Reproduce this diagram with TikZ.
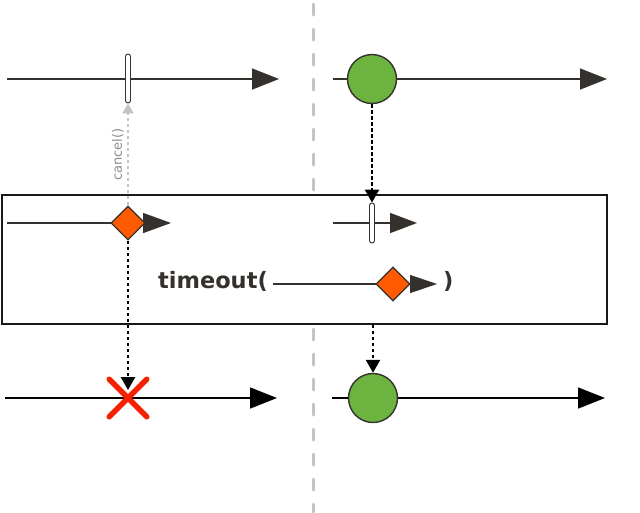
\documentclass[tikz,border=0pt]{standalone}
\usepackage{fontspec}
\setmainfont{DejaVu Sans}
\usetikzlibrary{arrows.meta,positioning,shapes.geometric,shapes.misc}
\definecolor{axisgray}{HTML}{35322E}
\definecolor{marblegreen}{HTML}{6CB33F}
\definecolor{itemorange}{HTML}{FF5A00}
\definecolor{errred}{HTML}{F42000}
\definecolor{splitgray}{HTML}{C4C4C4}
\definecolor{hintgray}{HTML}{8C8C8C}

\begin{document}
\begin{tikzpicture}[
  x=1pt,y=-1pt,
  every node/.style={font=\small},
  timeline/.style={draw=axisgray,line width=1.5pt,-{Triangle[length=27pt,width=21pt]}},
  outline/.style={timeline,draw=black},
  marble/.style={circle,draw=axisgray,line width=1.4pt,fill=marblegreen,minimum size=49pt,inner sep=0pt},
  item/.style={diamond,draw=axisgray,line width=1.2pt,fill=itemorange,minimum width=34pt,minimum height=34pt,inner sep=0pt},
  unsub/.style={rectangle,rounded corners=2.5pt,draw=axisgray,line width=0.9pt,fill=white,minimum width=5pt,inner sep=0pt},
  emit/.style={-{Triangle[length=13pt,width=14pt]},line width=2.4pt,dash pattern=on 3.5pt off 2.5pt},
  hint/.style={-{Triangle[length=10pt,width=11pt]},draw=splitgray,line width=2.4pt,dash pattern=on 3pt off 3pt},
  opbox/.style={draw=black!90,line width=1.5pt,fill=white,inner sep=0pt},
  optext/.style={font=\bfseries\fontsize{22.5}{24}\selectfont,text=axisgray,inner sep=0pt}
]
\useasboundingbox (0,0) rectangle (640,512);
% split between the two cases
\coordinate (splitTop) at (313,4.2);
\coordinate (splitBot) at (313,512);
\draw[splitgray,line width=3pt,line cap=round,dash pattern=on 11pt off 14pt] (splitTop) -- (splitBot);

% source streams
\coordinate (inL) at (7,79);
\coordinate (inLend) at (279,79);
\draw[timeline] (inL) -- (inLend);
\node[unsub,minimum height=49pt] (cutL) at (128,78.5) {};
\coordinate (inR) at (333,79);
\coordinate (inRend) at (607,79);
\draw[timeline] (inR) -- (inRend);
\node[marble] (inMarble) at (372,79) {};

% operator box
\node[opbox,minimum width=605pt,minimum height=129pt] (op) at (304.5,259.5) {};
\coordinate (opL) at (7,223);
\coordinate (opLend) at (171,223);
\draw[timeline,-{Triangle[length=28pt,width=20pt]}] (opL) -- (opLend);
\node[item] (opItem) at (128,223) {};
\coordinate (opR) at (333,223);
\coordinate (opRend) at (417,223);
\draw[timeline,-{Triangle[length=27pt,width=20pt]}] (opR) -- (opRend);
\node[unsub,minimum height=40pt] (cutR) at (372,223) {};
\node[optext,anchor=base east] (tmLbl) at (268,288) {timeout(};
\coordinate (tmA) at (273,284);
\coordinate (tmB) at (437,284);
\draw[timeline,line width=1.2pt,-{Triangle[length=27pt,width=18pt]}] (tmA) -- (tmB);
\node[item] (tmItem) at (393,284) {};
\node[optext,anchor=base west] (tmEnd) at (443,288) {)};

% output streams
\coordinate (outL) at (5,398);
\coordinate (outLend) at (277,398);
\draw[outline] (outL) -- (outLend);
\node[cross out,draw=errred,line width=5.5pt,line cap=round,minimum size=32pt,inner sep=0pt] (err) at (128,398) {};
\coordinate (outR) at (332,398);
\coordinate (outRend) at (605,398);
\draw[outline] (outR) -- (outRend);
\node[marble] (outMarble) at (373,398) {};

% emissions
\draw[hint] (opItem) -- node[midway,sloped,above,text=hintgray,font=\fontsize{13}{15}\selectfont]{cancel()} (cutL);
\draw[emit] (inMarble) -- (cutR);
\draw[emit,shorten >=8pt] (opItem) -- (err.center);
\draw[emit] (op.south -| outMarble) -- (outMarble);
\end{tikzpicture}
\end{document}
